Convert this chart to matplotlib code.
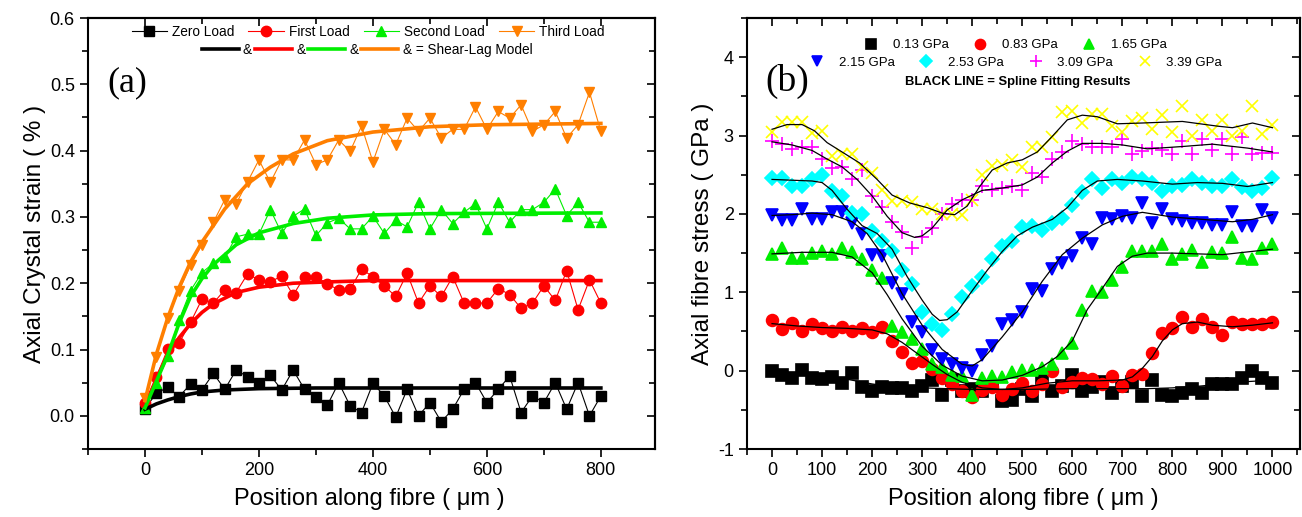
import numpy as np
import matplotlib
matplotlib.use('Agg')
import matplotlib.pyplot as plt
from matplotlib.ticker import MultipleLocator

plt.rcParams['font.family'] = ['Liberation Sans', 'DejaVu Sans']
plt.rcParams['axes.unicode_minus'] = False

# ---------------- panel (a): axial crystal strain (%) ----------------
pos_a = np.arange(0, 801, 20)
zero_load = [0.011, 0.034, 0.043, 0.029, 0.048, 0.039, 0.064, 0.040, 0.069, 0.059,
             0.049, 0.061, 0.039, 0.069, 0.040, 0.029, 0.016, 0.050, 0.015, 0.005,
             0.049, 0.030, -0.002, 0.040, 0.000, 0.020, -0.009, 0.010, 0.040, 0.050,
             0.020, 0.040, 0.060, 0.005, 0.030, 0.020, 0.050, 0.010, 0.050, 0.000, 0.030]
first_load = [0.019, 0.059, 0.101, 0.110, 0.141, 0.176, 0.170, 0.190, 0.186, 0.214,
              0.205, 0.202, 0.211, 0.182, 0.210, 0.210, 0.199, 0.190, 0.191, 0.221,
              0.210, 0.196, 0.180, 0.215, 0.170, 0.196, 0.180, 0.210, 0.170, 0.170,
              0.170, 0.192, 0.183, 0.162, 0.170, 0.196, 0.174, 0.219, 0.160, 0.205, 0.170]
second_load = [0.012, 0.050, 0.091, 0.145, 0.189, 0.216, 0.230, 0.239, 0.270, 0.274,
               0.274, 0.311, 0.275, 0.301, 0.312, 0.272, 0.291, 0.298, 0.282, 0.282,
               0.301, 0.275, 0.295, 0.285, 0.322, 0.282, 0.311, 0.290, 0.307, 0.320,
               0.282, 0.322, 0.292, 0.311, 0.311, 0.322, 0.342, 0.302, 0.322, 0.292, 0.292]
third_load = [0.027, 0.089, 0.148, 0.189, 0.227, 0.258, 0.292, 0.326, 0.320, 0.353,
              0.386, 0.352, 0.386, 0.386, 0.416, 0.379, 0.386, 0.416, 0.399, 0.437,
              0.383, 0.432, 0.409, 0.449, 0.429, 0.449, 0.419, 0.432, 0.432, 0.466,
              0.432, 0.459, 0.449, 0.469, 0.429, 0.439, 0.459, 0.419, 0.439, 0.488, 0.429]

# shear-lag model curves
sl_zero_x = [0, 20, 40, 60, 80, 100, 140, 200, 300, 800]
sl_zero_y = [0.010, 0.018, 0.024, 0.029, 0.033, 0.036, 0.039, 0.041, 0.042, 0.042]
sl_first_x = [0, 20, 40, 60, 80, 100, 120, 160, 200, 260, 320, 400, 800]
sl_first_y = [0.015, 0.056, 0.092, 0.118, 0.139, 0.156, 0.169, 0.186, 0.194, 0.200, 0.202, 0.204, 0.204]
sl_second_x = [0, 20, 40, 60, 80, 100, 120, 160, 200, 260, 320, 400, 500, 800]
sl_second_y = [0.012, 0.052, 0.092, 0.140, 0.180, 0.207, 0.228, 0.258, 0.276, 0.290, 0.298, 0.303, 0.305, 0.306]
sl_third_x = [0, 20, 40, 60, 80, 100, 140, 180, 220, 260, 320, 400, 500, 600, 800]
sl_third_y = [0.023, 0.093, 0.148, 0.194, 0.232, 0.262, 0.312, 0.350, 0.375, 0.395, 0.415, 0.428, 0.436, 0.439, 0.441]

# ---------------- panel (b): axial fibre stress (GPa) ----------------
pos_b = np.arange(0, 1001, 20)
s013 = [-0.01, -0.05, -0.10, 0.01, -0.09, -0.11, -0.08, -0.16, -0.03, -0.21,
        -0.26, -0.21, -0.22, -0.22, -0.26, -0.19, -0.12, -0.31, -0.12, -0.26,
        -0.23, -0.26, -0.20, -0.39, -0.37, -0.23, -0.33, -0.10, -0.26, -0.20,
        -0.05, -0.26, -0.21, -0.15, -0.29, -0.20, -0.14, -0.33, -0.12, -0.31,
        -0.33, -0.29, -0.23, -0.29, -0.17, -0.17, -0.17, -0.10, 0.00, -0.09, -0.16]
s083 = [0.65, 0.53, 0.61, 0.50, 0.59, 0.54, 0.51, 0.56, 0.51, 0.54,
        0.49, 0.56, 0.38, 0.24, 0.10, 0.12, 0.02, -0.09, -0.17, -0.26,
        -0.34, -0.25, -0.21, -0.31, -0.23, -0.16, -0.26, -0.17, 0.00, -0.21,
        -0.14, -0.10, -0.11, -0.17, -0.07, -0.19, -0.05, -0.04, 0.22, 0.48,
        0.54, 0.68, 0.56, 0.66, 0.56, 0.46, 0.62, 0.59, 0.59, 0.60, 0.62]
s165 = [1.49, 1.57, 1.44, 1.44, 1.50, 1.53, 1.49, 1.56, 1.52, 1.42,
        1.29, 1.18, 0.57, 0.49, 0.41, 0.28, 0.09, 0.05, -0.05, -0.07,
        -0.31, -0.10, -0.07, -0.08, -0.02, 0.01, 0.01, 0.03, 0.08, 0.22,
        0.35, 0.78, 1.02, 1.00, 1.16, 1.32, 1.53, 1.53, 1.53, 1.61,
        1.42, 1.49, 1.54, 1.39, 1.52, 1.50, 1.70, 1.44, 1.42, 1.57, 1.62]
s215 = [1.98, 1.92, 1.92, 2.06, 1.93, 1.93, 2.02, 2.03, 1.88, 1.75,
        1.47, 1.46, 1.12, 0.98, 0.62, 0.49, 0.26, 0.15, 0.09, 0.03,
        0.00, 0.20, 0.31, 0.59, 0.65, 0.75, 1.04, 1.02, 1.30, 1.37,
        1.46, 1.69, 1.61, 1.95, 1.94, 1.97, 1.95, 2.14, 1.89, 2.06,
        1.93, 1.91, 1.88, 1.88, 1.86, 1.86, 2.03, 1.84, 1.84, 2.05, 1.95]
s253 = [2.46, 2.46, 2.36, 2.36, 2.45, 2.50, 2.29, 2.23, 2.01, 2.00,
        1.78, 1.66, 1.53, 1.29, 1.10, 0.75, 0.59, 0.52, 0.72, 0.94,
        1.08, 1.20, 1.43, 1.59, 1.66, 1.83, 1.85, 1.80, 1.88, 1.95,
        2.12, 2.28, 2.45, 2.33, 2.45, 2.39, 2.47, 2.44, 2.40, 2.29,
        2.36, 2.37, 2.44, 2.40, 2.35, 2.35, 2.44, 2.34, 2.29, 2.33, 2.46]
s309 = [2.93, 2.89, 2.83, 2.86, 2.85, 2.70, 2.59, 2.60, 2.45, 2.56,
        2.23, 2.09, 1.90, 1.77, 1.57, 1.70, 1.82, 2.00, 2.13, 2.18,
        2.18, 2.35, 2.31, 2.33, 2.36, 2.31, 2.52, 2.47, 2.70, 2.79,
        2.93, 2.89, 2.86, 2.86, 2.86, 2.95, 2.76, 2.80, 2.84, 2.82,
        2.76, 2.93, 2.76, 2.95, 2.82, 2.96, 2.76, 2.98, 2.76, 2.78, 2.78]
s339 = [3.04, 3.17, 3.17, 3.17, 3.03, 3.06, 2.74, 2.77, 2.76, 2.60,
        2.52, 2.31, 2.16, 2.16, 2.15, 2.06, 2.06, 2.00, 2.00, 1.98,
        2.18, 2.50, 2.61, 2.62, 2.69, 2.60, 2.85, 2.85, 2.98, 3.30,
        3.31, 3.16, 3.28, 3.28, 3.12, 3.04, 3.19, 3.23, 3.08, 3.26,
        3.04, 3.38, 3.00, 3.20, 3.06, 3.20, 3.00, 3.06, 3.38, 3.02, 3.14]

# spline fits
sp013_x = [0, 100, 150, 200, 250, 300, 400, 500, 600, 700, 750, 800, 850, 900, 950, 1000]
sp013_y = [-0.02, -0.06, -0.11, -0.17, -0.21, -0.22, -0.24, -0.24, -0.23, -0.23, -0.23, -0.22, -0.20, -0.17, -0.14, -0.12]
sp083_x = [0, 50, 100, 150, 200, 230, 260, 290, 320, 350, 380, 420, 460, 500, 550, 600, 650,
           700, 720, 740, 760, 780, 800, 820, 850, 880, 920, 960, 1000]
sp083_y = [0.60, 0.57, 0.55, 0.54, 0.52, 0.47, 0.36, 0.22, 0.08, -0.05, -0.15, -0.22, -0.24,
           -0.22, -0.16, -0.13, -0.13, -0.12, -0.08, 0.03, 0.18, 0.38, 0.52, 0.60, 0.62, 0.58,
           0.56, 0.58, 0.61]
sp165_x = [0, 60, 120, 160, 200, 230, 260, 300, 340, 380, 420, 460, 500, 540, 570, 600,
           630, 660, 690, 720, 750, 800, 900, 1000]
sp165_y = [1.49, 1.51, 1.51, 1.45, 1.25, 0.97, 0.66, 0.31, 0.07, -0.07, -0.13, -0.12,
           -0.06, 0.05, 0.18, 0.38, 0.78, 1.05, 1.33, 1.46, 1.50, 1.50, 1.48, 1.55]
sp215_x = [0, 40, 80, 120, 160, 190, 220, 260, 300, 340, 380, 400, 420, 460, 500, 540,
           580, 620, 660, 700, 740, 800, 860, 920, 960, 1000]
sp215_y = [1.98, 1.99, 2.01, 1.99, 1.90, 1.75, 1.48, 0.98, 0.58, 0.27, 0.08, 0.06, 0.14,
           0.43, 0.75, 1.14, 1.48, 1.69, 1.86, 1.97, 2.02, 1.96, 1.93, 1.90, 1.93, 1.99]
sp253_x = [0, 40, 80, 100, 120, 150, 180, 210, 240, 270, 300, 320, 335, 350, 370, 400,
           430, 460, 490, 520, 560, 590, 620, 650, 690, 740, 800, 850, 900, 950, 1000]
sp253_y = [2.44, 2.43, 2.42, 2.40, 2.30, 2.06, 1.85, 1.75, 1.55, 1.20, 0.90, 0.72, 0.64,
           0.65, 0.75, 1.02, 1.28, 1.52, 1.72, 1.83, 1.93, 2.08, 2.30, 2.42, 2.44, 2.42,
           2.38, 2.40, 2.39, 2.35, 2.40]
sp309_x = [0, 40, 80, 110, 140, 170, 200, 230, 260, 285, 300, 320, 350, 380, 420, 460,
           500, 530, 560, 590, 620, 660, 700, 750, 820, 880, 950, 1000]
sp309_y = [2.92, 2.88, 2.81, 2.70, 2.60, 2.44, 2.23, 1.97, 1.76, 1.70, 1.72, 1.82, 2.05,
           2.18, 2.30, 2.33, 2.37, 2.47, 2.65, 2.80, 2.90, 2.90, 2.88, 2.83, 2.86, 2.89,
           2.84, 2.79]
sp339_x = [0, 30, 60, 85, 110, 140, 175, 210, 240, 275, 310, 340, 365, 390, 415, 440,
           470, 500, 530, 560, 590, 620, 650, 690, 740, 820, 890, 920, 960, 1000]
sp339_y = [3.08, 3.14, 3.14, 3.06, 2.91, 2.79, 2.65, 2.44, 2.24, 2.14, 2.08, 2.01, 1.99,
           2.10, 2.35, 2.56, 2.65, 2.69, 2.79, 2.99, 3.20, 3.26, 3.24, 3.15, 3.16, 3.18,
           3.12, 3.10, 3.16, 3.10]

orange = '#FF7F00'
green = '#00EE00'

fig = plt.figure(figsize=(13.02, 5.17), dpi=100)
ax1 = fig.add_axes([88/1302, 1-449/517, 567/1302, 431/517])
ax2 = fig.add_axes([747/1302, 1-449/517, 553/1302, 431/517])

# ---- (a)
series_a = [(zero_load, 'k', 's', 'Zero Load'),
            (first_load, 'r', 'o', 'First Load'),
            (second_load, green, '^', 'Second Load'),
            (third_load, orange, 'v', 'Third Load')]
data_handles = []
for vals, col, mk, lab in series_a:
    h, = ax1.plot(pos_a, vals, '-', color=col, lw=0.8, marker=mk, ms=7.5,
                  mec=col, mfc=col, label=lab, zorder=2)
    data_handles.append(h)

model_handles = []
for mx, my, col in [(sl_zero_x, sl_zero_y, 'k'), (sl_first_x, sl_first_y, 'r'),
                    (sl_second_x, sl_second_y, green), (sl_third_x, sl_third_y, orange)]:
    h, = ax1.plot(mx, my, '-', color=col, lw=2.6, zorder=3)
    model_handles.append(h)

ax1.set_xlim(-100, 895)
ax1.set_ylim(-0.05, 0.6)
ax1.xaxis.set_major_locator(MultipleLocator(200))
ax1.xaxis.set_minor_locator(MultipleLocator(100))
ax1.yaxis.set_major_locator(MultipleLocator(0.1))
ax1.yaxis.set_minor_locator(MultipleLocator(0.05))
ax1.set_yticks([0.0, 0.1, 0.2, 0.3, 0.4, 0.5, 0.6])
ax1.set_yticklabels(['0.0', '0.1', '0.2', '0.3', '0.4', '0.5', '0.6'])

leg1 = ax1.legend(handles=data_handles, loc='center', bbox_to_anchor=(0.494, 0.968),
                  ncol=4, frameon=False, fontsize=9.8, handlelength=2.6,
                  handletextpad=0.35, columnspacing=1.05, borderpad=0, borderaxespad=0)
ax1.add_artist(leg1)
ax1.legend(handles=model_handles, labels=['&', '&', '&', '& = Shear-Lag Model'],
           loc='center', bbox_to_anchor=(0.492, 0.926), ncol=4, frameon=False,
           fontsize=9.8, handlelength=2.72, handletextpad=0.3, columnspacing=0.22,
           borderpad=0, borderaxespad=0)
ax1.text(0.035, 0.85, '(a)', transform=ax1.transAxes, fontsize=26,
         family='Liberation Serif', va='center', ha='left')
ax1.set_xlabel('Position along fibre ( \u03bcm )', fontsize=17)
ax1.set_ylabel('Axial Crystal strain ( % )', fontsize=17.5)
ax1.xaxis.set_label_coords(0.497, -0.09)
ax1.yaxis.set_label_coords(-0.074, 0.5)

# ---- (b)
series_b = [(s013, 'k', 's', '0.13 GPa', 8),
            (s083, 'r', 'o', '0.83 GPa', 8.5),
            (s165, green, '^', '1.65 GPa', 9),
            (s215, 'b', 'v', '2.15 GPa', 9),
            (s253, '#00FFFF', 'D', '2.53 GPa', 7),
            (s309, '#FF00FF', '+', '3.09 GPa', 10),
            (s339, '#FFFF00', 'x', '3.39 GPa', 9)]
handles_b = []
for vals, col, mk, lab, sz in series_b:
    h, = ax2.plot(pos_b, vals, ls='none', marker=mk, ms=sz, color=col, mec=col,
                  mew=1.2, label=lab, zorder=2)
    handles_b.append(h)

for sx, sy in [(sp013_x, sp013_y), (sp083_x, sp083_y), (sp165_x, sp165_y),
               (sp215_x, sp215_y), (sp253_x, sp253_y), (sp309_x, sp309_y),
               (sp339_x, sp339_y)]:
    ax2.plot(sx, sy, '-', color='k', lw=0.9, zorder=3)

ax2.set_xlim(-50, 1055)
ax2.set_ylim(-1, 4.5)
ax2.xaxis.set_major_locator(MultipleLocator(100))
ax2.xaxis.set_minor_locator(MultipleLocator(50))
ax2.yaxis.set_major_locator(MultipleLocator(1))
ax2.yaxis.set_minor_locator(MultipleLocator(0.5))

leg2 = ax2.legend(handles=handles_b[:3], loc='center', bbox_to_anchor=(0.486, 0.937),
                  ncol=3, frameon=False, fontsize=9.5, handlelength=1.0,
                  handletextpad=1.15, columnspacing=1.9, borderpad=0, borderaxespad=0,
                  markerscale=0.85)
ax2.add_artist(leg2)
ax2.legend(handles=handles_b[3:], loc='center', bbox_to_anchor=(0.487, 0.896),
           ncol=4, frameon=False, fontsize=9.5, handlelength=1.0,
           handletextpad=1.15, columnspacing=1.9, borderpad=0, borderaxespad=0,
           markerscale=0.85)
ax2.text(0.49, 0.851, 'BLACK LINE = Spline Fitting Results', transform=ax2.transAxes,
         fontsize=9.4, fontweight='bold', ha='center', va='center')
ax2.text(0.034, 0.852, '(b)', transform=ax2.transAxes, fontsize=27,
         family='Liberation Serif', va='center', ha='left')
ax2.set_xlabel('Position along fibre ( \u03bcm )', fontsize=17)
ax2.set_ylabel('Axial fibre stress ( GPa )', fontsize=17.5)
ax2.xaxis.set_label_coords(0.499, -0.09)
ax2.yaxis.set_label_coords(-0.06, 0.5)

for ax in (ax1, ax2):
    for sp in ax.spines.values():
        sp.set_linewidth(1.5)
    ax.tick_params(which='both', direction='out', width=1.2, labelsize=13,
                   top=False, right=False)
    ax.tick_params(which='major', length=6)
    ax.tick_params(which='minor', length=4)
    # inward ticks on the top/right spines
    sec_x = ax.secondary_xaxis('top')
    sec_x.set_xticks(ax.get_xticks(minor=True), minor=True)
    sec_x.set_xticks(ax.get_xticks())
    sec_x.tick_params(which='both', direction='in', labeltop=False, width=1.2)
    sec_x.tick_params(which='major', length=6)
    sec_x.tick_params(which='minor', length=4)
    sec_y = ax.secondary_yaxis('right')
    sec_y.set_yticks(ax.get_yticks(minor=True), minor=True)
    sec_y.set_yticks(ax.get_yticks())
    sec_y.tick_params(which='both', direction='in', labelright=False, width=1.2)
    sec_y.tick_params(which='major', length=6)
    sec_y.tick_params(which='minor', length=4)
    sec_x.spines['top'].set_linewidth(1.5)
    sec_y.spines['right'].set_linewidth(1.5)

fig.savefig('out.png', dpi=100)
